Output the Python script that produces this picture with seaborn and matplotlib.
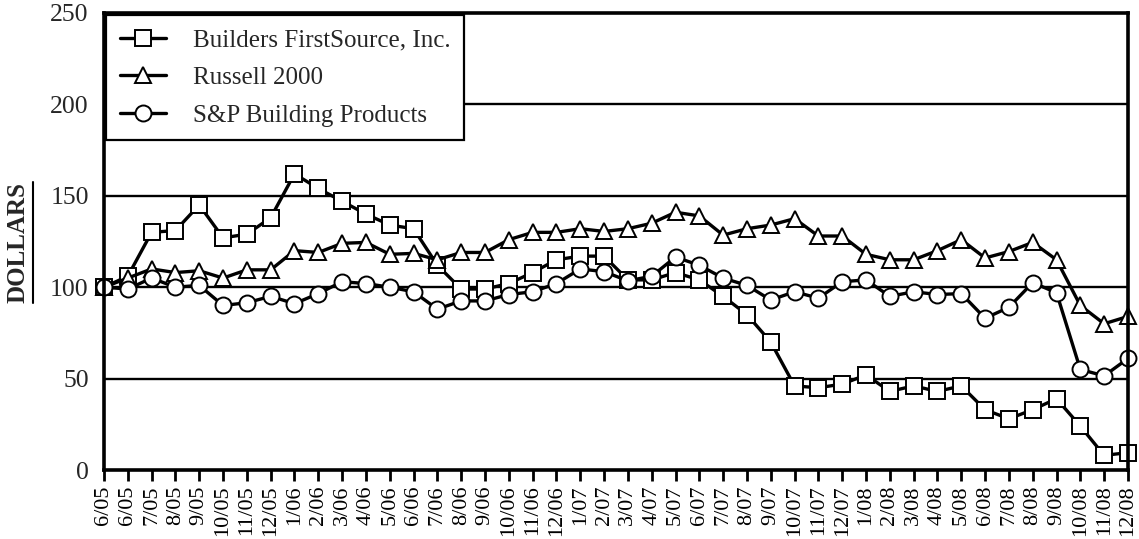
import matplotlib
matplotlib.use("Agg")
import matplotlib.pyplot as plt
import seaborn as sns
import pandas as pd
from matplotlib.lines import Line2D

# Month labels on the x axis (6/05 appears twice: base + first month)
months = ['6/05', '6/05', '7/05', '8/05', '9/05', '10/05', '11/05', '12/05',
          '1/06', '2/06', '3/06', '4/06', '5/06', '6/06', '7/06', '8/06',
          '9/06', '10/06', '11/06', '12/06',
          '1/07', '2/07', '3/07', '4/07', '5/07', '6/07', '7/07', '8/07',
          '9/07', '10/07', '11/07', '12/07',
          '1/08', '2/08', '3/08', '4/08', '5/08', '6/08', '7/08', '8/08',
          '9/08', '10/08', '11/08', '12/08']

builders = [100, 106, 130, 131, 145, 127, 129, 138, 162, 154, 147, 140,
            134, 132, 112, 99, 99, 102, 108, 115,
            117, 117, 104, 104, 108, 104, 95, 85, 70, 46, 45, 47,
            52, 43, 46, 43, 46, 33, 28, 33, 39, 24, 8, 9.5]

russell = [100, 105, 110, 108, 109, 105, 109.5, 109.5, 120, 119, 124, 124.5,
           118, 118.5, 115, 119, 119, 126, 130, 130,
           132, 130.5, 132, 135, 141, 139, 128.5, 132, 134, 137.5, 128, 128,
           118, 115, 115, 120, 126, 116, 119.5, 124.5, 115, 90, 80, 84]

sp_building = [100, 99, 105, 100, 101, 90, 91.5, 95, 91, 96.5, 103, 102,
               100, 97.5, 88, 92.5, 92.5, 96, 97.5, 102,
               110, 108.5, 103.5, 106, 116.5, 112, 105, 101, 93, 97.5, 94, 103,
               104, 95, 97.5, 96, 96.5, 83, 89, 102.5, 97, 55, 51.5, 61]

df = pd.DataFrame({'pos': range(len(months)), 'month': months,
                   'Builders FirstSource, Inc.': builders,
                   'Russell 2000': russell,
                   'S&P Building Products': sp_building})

sns.set_style('white')
plt.rcParams['font.family'] = ['Liberation Serif', 'DejaVu Serif']

fig, ax = plt.subplots(figsize=(11.39, 5.39), dpi=100)
fig.subplots_adjust(left=0.0913, right=0.9903, top=0.9759, bottom=0.128)

series = [('Builders FirstSource, Inc.', 's'),
          ('Russell 2000', '^'),
          ('S&P Building Products', 'o')]
for name, mk in series:
    sns.lineplot(data=df, x='pos', y=name, ax=ax, color='black', lw=2.4,
                 marker=mk, markersize=11.5, markerfacecolor='white',
                 markeredgecolor='black', markeredgewidth=1.4,
                 clip_on=False, label=name)

ax.set_xlim(0, len(months) - 1)
ax.set_ylim(0, 250)
ax.set_yticks([0, 50, 100, 150, 200, 250])
ax.set_xticks(range(len(months)))
ax.set_xticklabels(months, rotation=90, fontsize=16)
ax.tick_params(axis='y', length=0, pad=11, labelsize=18.5)
ax.tick_params(axis='x', direction='out', length=8, width=2, pad=3,
               bottom=True, colors='black')
ax.set_xlabel('')
ax.set_ylabel('')

for v in [50, 100, 150, 200]:
    ax.axhline(v, color='black', lw=1.7, zorder=0.5)

for s in ax.spines.values():
    s.set_color('black')
    s.set_linewidth(2.6)

leg = ax.legend(loc='upper left', bbox_to_anchor=(0, 1), borderaxespad=0.1,
                fontsize=18, frameon=True, fancybox=False, framealpha=1,
                edgecolor='black', handlelength=1.85, handletextpad=1.05,
                labelspacing=0.6, borderpad=0.55)
leg.get_frame().set_linewidth(1.6)

lbl = fig.text(18 / 1139, 1 - 242 / 539, 'DOLLARS', rotation=90,
               fontsize=18, fontweight='bold', ha='center', va='center')
fig.canvas.draw()
bb = lbl.get_window_extent().transformed(fig.transFigure.inverted())
fig.add_artist(Line2D([bb.x1 + 0.003, bb.x1 + 0.003], [bb.y0, bb.y1],
                      transform=fig.transFigure, color='black', lw=1.5))

fig.savefig('out.png', dpi=100)
